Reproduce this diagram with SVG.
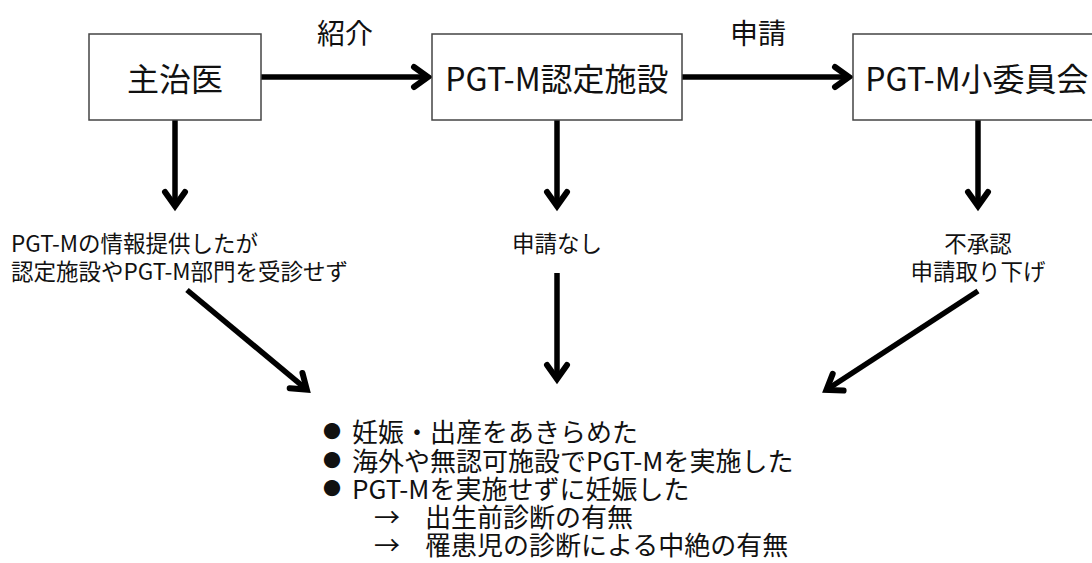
<svg xmlns="http://www.w3.org/2000/svg" width="1092" height="563" viewBox="0 0 1092 563">
<style>
text{font-family:"Noto Sans CJK JP","Noto Sans",sans-serif;fill:#111}
.box{fill:#fff;stroke:#444;stroke-width:1.5}
.big{font-size:32px}
.lab{font-size:28px}
.mid{font-size:22.5px}
.bot{font-size:26px}
.bul{font-size:18px}
.c{text-anchor:middle;dominant-baseline:central}
.l{dominant-baseline:central}
.arr{stroke:#000;stroke-width:5.5;fill:none;marker-end:url(#ah)}
</style>
<defs>
<marker id="ah" markerUnits="userSpaceOnUse" markerWidth="40" markerHeight="40" viewBox="-20 -20 40 40" refX="0" refY="0" orient="auto" overflow="visible">
<path d="M-12,-10 L2,0 L-12,10" fill="none" stroke="#000" stroke-width="6" stroke-linejoin="miter" stroke-linecap="round"/>
</marker>
</defs>
<rect width="1092" height="563" fill="#fff"/>
<g id="connectors">
<line class="arr" x1="261" y1="77" x2="426" y2="77"/>
<line class="arr" x1="682" y1="77" x2="847" y2="77"/>
<line class="arr" x1="175" y1="120" x2="175" y2="204"/>
<line class="arr" x1="557" y1="120" x2="557" y2="204"/>
<line class="arr" x1="978" y1="120" x2="978" y2="204"/>
<line class="arr" x1="557" y1="273" x2="557" y2="377"/>
<line class="arr" x1="187" y1="290" x2="305.3" y2="388.3"/>
<line class="arr" x1="978" y1="291" x2="828.1" y2="388.8"/>
<text class="lab c" x="345" y="32">紹介</text>
<text class="lab c" x="758" y="32">申請</text>
</g>
<g id="node-shujii">
<rect class="box" x="89" y="34" width="172" height="86"/>
<text class="big c" x="175" y="77">主治医</text>
</g>
<g id="node-nintei">
<rect class="box" x="432" y="34" width="250" height="86"/>
<text class="big c" x="557" y="77">PGT-M認定施設</text>
</g>
<g id="node-iinkai">
<rect class="box" x="853" y="34" width="250" height="86"/>
<text class="big c" x="977" y="77">PGT-M小委員会</text>
</g>
<g id="label-left">
<text class="mid l" x="11" y="242">PGT-Mの情報提供したが</text>
<text class="mid l" x="11" y="270">認定施設やPGT-M部門を受診せず</text>
</g>
<g id="label-mid">
<text class="mid c" x="557" y="242">申請なし</text>
</g>
<g id="label-right">
<text class="mid c" x="978" y="242">不承認</text>
<text class="mid c" x="978" y="270">申請取り下げ</text>
</g>
<g id="outcomes">
<text class="bul l" x="323" y="430">●</text>
<text class="bot l" x="352" y="430">妊娠・出産をあきらめた</text>
<text class="bul l" x="323" y="459">●</text>
<text class="bot l" x="352" y="459">海外や無認可施設でPGT-Mを実施した</text>
<text class="bul l" x="323" y="487">●</text>
<text class="bot l" x="352" y="487">PGT-Mを実施せずに妊娠した</text>
<text class="bot l" x="374" y="515">→</text>
<text class="bot l" x="425" y="515">出生前診断の有無</text>
<text class="bot l" x="374" y="543">→</text>
<text class="bot l" x="425" y="543">罹患児の診断による中絶の有無</text>
</g>
</svg>
